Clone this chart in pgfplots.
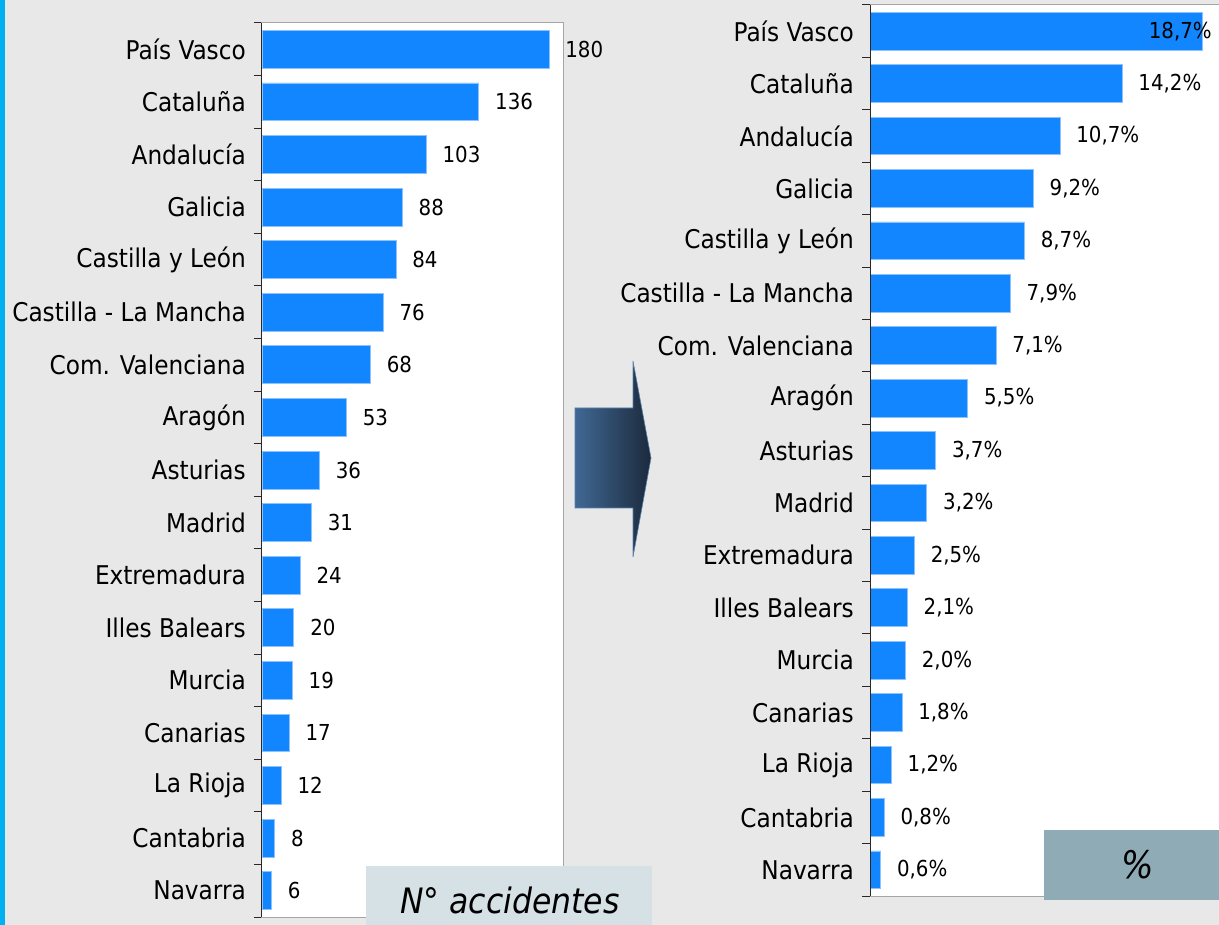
\documentclass[border=0pt]{standalone}
\usepackage{pgfplots}
\pgfplotsset{compat=1.18}
\usepackage{fontspec}
\setmainfont{DejaVu Sans Condensed}
\definecolor{bg}{RGB}{232,232,232}
\definecolor{barblue}{RGB}{18,134,255}
\definecolor{baredge}{RGB}{140,195,255}
\definecolor{stripblue}{RGB}{0,176,240}
\definecolor{bordergray}{RGB}{165,165,165}
\definecolor{axisdark}{RGB}{40,40,40}
\definecolor{boxA}{RGB}{214,225,230}
\definecolor{boxB}{RGB}{143,171,182}
\definecolor{arrowL}{RGB}{64,104,148}
\definecolor{arrowR}{RGB}{28,42,60}
\definecolor{arrowEdge}{RGB}{90,130,175}
\pgfplotsset{
  mybar/.style={
    scale only axis, xbar, bar width=0.72, y dir=reverse,
    ymin=-0.5, ymax=16.5, xmin=0, clip=false,
    axis background/.style={fill=white},
    axis line style={draw=bordergray, line width=1pt},
    ytick={0,...,16},
    yticklabels={País Vasco, Cataluña, Andalucía, Galicia, Castilla y León, Castilla - La Mancha, Com. Valenciana, Aragón, Asturias, Madrid, Extremadura, Illes Balears, Murcia, Canarias, La Rioja, Cantabria, Navarra},
    major tick length=0pt,
    minor ytick={-0.5,0.5,...,16.5}, minor tick length=8pt,
    tick align=outside, ytick pos=left,
    minor tick style={axisdark, line width=1pt},
    xtick=\empty,
    yticklabel style={font=\fontsize{25.8}{26}\selectfont, inner sep=0pt, anchor=east, xshift=-16pt},
    /pgf/number format/assume math mode=true,
    every node near coord/.append style={font=\fontsize{22}{22}\selectfont, anchor=west, inner sep=0pt, xshift=16pt, text=black},
    nodes near coords align={horizontal},
  }
}
\begin{document}
\begin{tikzpicture}[x=1pt,y=1pt]
\useasboundingbox (0pt,0pt) rectangle (1219pt,925pt);
\fill[bg] (0pt,0pt) rectangle (1219pt,925pt);
\fill[stripblue] (0pt,0pt) rectangle (5pt,925pt);

% Left chart
\begin{axis}[mybar, at={(262pt,8pt)}, anchor=south west, width=301pt, height=894pt, xmax=188.8,
  point meta=x, nodes near coords]
\addplot[fill=barblue, draw=baredge, line width=0.8pt] coordinates {
(180,0) (136,1) (103,2) (88,3) (84,4) (76,5) (68,6) (53,7) (36,8) (31,9) (24,10) (20,11) (19,12) (17,13) (12,14) (8,15) (6,16)};
\draw[axisdark, line width=1pt] (rel axis cs:0,0) -- (rel axis cs:0,1);
\end{axis}

% Right chart
\begin{axis}[mybar, at={(870pt,29pt)}, anchor=south west, width=349pt, height=891pt, xmax=19.66]
\addplot[fill=barblue, draw=baredge, line width=0.8pt, bar shift=0pt, point meta=x,
  nodes near coords={\pgfmathprintnumber[fixed,fixed zerofill,precision=1,use comma]{\pgfplotspointmeta}\%}] coordinates {
(14.2,1) (10.7,2) (9.2,3) (8.7,4) (7.9,5) (7.1,6) (5.5,7) (3.7,8) (3.2,9) (2.5,10) (2.1,11) (2.0,12) (1.8,13) (1.2,14) (0.8,15) (0.6,16)};
\addplot[fill=barblue, draw=baredge, line width=0.8pt, bar shift=0pt] coordinates {(18.7,0)};
\node[anchor=east, inner sep=0pt, xshift=10pt, font=\fontsize{22}{22}\selectfont] at (axis cs:18.7,0) {18,7\%};
\draw[axisdark, line width=1pt] (rel axis cs:0,0) -- (rel axis cs:0,1);
\end{axis}

% Arrow
\shade[left color=arrowL, right color=arrowR, draw=arrowEdge, line width=0.6pt]
  (575pt,517pt) -- (633pt,517pt) -- (633pt,564pt) -- (651pt,467pt) -- (633pt,368pt) -- (633pt,417pt) -- (575pt,417pt) -- cycle;

% Label boxes
\fill[boxA] (366pt,0pt) rectangle (652pt,59pt);
\node[font=\fontsize{35}{35}\selectfont\itshape] at (510pt,25pt) {N° accidentes};
\fill[boxB] (1044pt,25pt) rectangle (1219pt,95pt);
\node[font=\fontsize{38}{38}\selectfont\itshape] at (1138pt,60pt) {\%};
\end{tikzpicture}
\end{document}
